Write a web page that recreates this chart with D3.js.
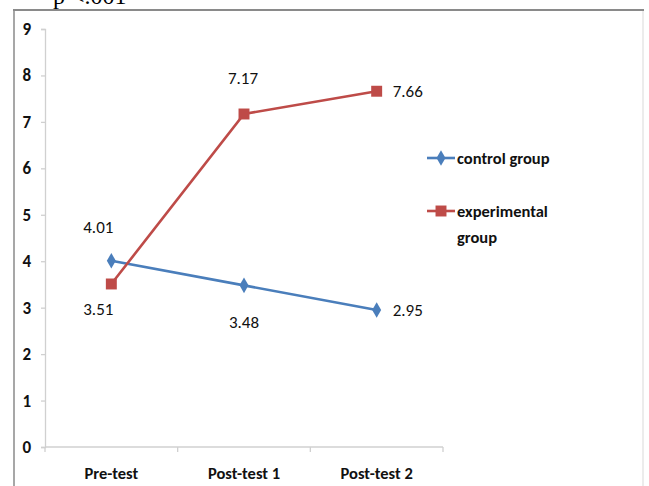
<!DOCTYPE html>
<html>
<head>
<meta charset="utf-8">
<script src="https://cdn.jsdelivr.net/npm/d3@7"></script>
<style>
  html, body { margin: 0; padding: 0; background: #fff; }
  svg { display: block; }
</style>
</head>
<body>
<svg id="chart" width="649" height="486"></svg>
<script>
// ---- data ----
const categories = ["Pre-test", "Post-test 1", "Post-test 2"];
const controlValues = [4.01, 3.48, 2.95];
const experimentalValues = [3.51, 7.17, 7.66];
const seriesNames = ["control group", "experimental group"];
const yTicks = [0, 1, 2, 3, 4, 5, 6, 7, 8, 9];
const noteText = "p <.001";

// ---- setup ----
const svg = d3.select("#chart");
const FONT = "Carlito, 'Liberation Sans', sans-serif";
const blue = "#4a7ebb", red = "#be4b48", axisColor = "#d0d0d0";

// outer frame (page border)
svg.append("line").attr("x1", 14).attr("x2", 14).attr("y1", 9).attr("y2", 486)
  .attr("stroke", "#8a8a8a").attr("stroke-width", 1.5);
svg.append("line").attr("x1", 13).attr("x2", 644).attr("y1", 10).attr("y2", 10)
  .attr("stroke", "#8a8a8a").attr("stroke-width", 2);
svg.append("line").attr("x1", 643).attr("x2", 643).attr("y1", 11).attr("y2", 486)
  .attr("stroke", "#e6e6e6").attr("stroke-width", 1.5);

svg.append("text").attr("x", 53).attr("y", 4)
  .attr("font-family", "'Liberation Serif', 'Times New Roman', serif")
  .attr("font-size", 24).attr("fill", "#000").text(noteText);

const x = d3.scaleBand().domain(categories).range([45, 443]).padding(0);
const y = d3.scaleLinear().domain([0, 9]).range([447, 29]);
const cx = c => x(c) + x.bandwidth() / 2;

// y axis
const yAxis = svg.append("g").attr("transform", "translate(45,0)")
  .call(d3.axisLeft(y).tickValues(yTicks).tickSize(4).tickPadding(10).tickFormat(d3.format("d")));
yAxis.select(".domain").attr("stroke", axisColor).attr("stroke-width", 1.3);
yAxis.selectAll(".tick line").attr("stroke", axisColor).attr("stroke-width", 1.3);
yAxis.selectAll(".tick text").attr("font-family", FONT).attr("font-size", 17)
  .attr("font-weight", "bold").attr("fill", "#111");

// x axis
const xg = svg.append("g").attr("transform", `translate(0,${y(0)})`);
xg.append("line").attr("x1", x.range()[0]).attr("x2", x.range()[1])
  .attr("stroke", axisColor).attr("stroke-width", 1.3);
const bounds = categories.map(c => x(c)).concat([x.range()[1]]);
xg.selectAll("line.tk").data(bounds).join("line").attr("class", "tk")
  .attr("x1", d => d).attr("x2", d => d).attr("y1", 0).attr("y2", 5)
  .attr("stroke", axisColor).attr("stroke-width", 1.3);
xg.selectAll("text").data(categories).join("text")
  .attr("x", d => cx(d)).attr("y", 32).attr("text-anchor", "middle")
  .attr("font-family", FONT).attr("font-size", 16.5).attr("font-weight", "bold")
  .attr("fill", "#111").text(d => d);

// series
const series = [
  { name: seriesNames[0], values: controlValues, color: blue, marker: "diamond",
    labelPos: [[-13, -33, "middle"], [0, 37, "middle"], [16, 1, "start"]] },
  { name: seriesNames[1], values: experimentalValues, color: red, marker: "square",
    labelPos: [[-13, 26, "middle"], [-1, -35, "middle"], [16, 0, "start"]] }
];

const line = d3.line().x((d, i) => cx(categories[i])).y(d => y(d));
const diamond = d3.symbol().type(d3.symbolDiamond).size(70);
const square = d3.symbol().type(d3.symbolSquare).size(120);

series.forEach(s => {
  svg.append("path").datum(s.values).attr("d", line)
    .attr("fill", "none").attr("stroke", s.color).attr("stroke-width", 2.6);
  svg.selectAll(null).data(s.values).join("path")
    .attr("transform", (d, i) => `translate(${cx(categories[i])},${y(d)})`)
    .attr("d", s.marker === "diamond" ? diamond : square)
    .attr("fill", s.color);
  svg.selectAll(null).data(s.values).join("text")
    .attr("x", (d, i) => cx(categories[i]) + s.labelPos[i][0])
    .attr("y", (d, i) => y(d) + s.labelPos[i][1])
    .attr("text-anchor", (d, i) => s.labelPos[i][2])
    .attr("dominant-baseline", "central")
    .attr("font-family", FONT).attr("font-size", 17).attr("fill", "#111")
    .text(d => d3.format(".2f")(d));
});

// legend
const legend = svg.append("g");
const legendRows = [
  { lines: ["control group"], y: 158, color: blue, marker: diamond },
  { lines: ["experimental", "group"], y: 211, color: red, marker: square }
];
legendRows.forEach(r => {
  legend.append("line").attr("x1", 427).attr("x2", 455).attr("y1", r.y).attr("y2", r.y)
    .attr("stroke", r.color).attr("stroke-width", 2.6);
  legend.append("path").attr("transform", `translate(441,${r.y})`).attr("d", r.marker).attr("fill", r.color);
  r.lines.forEach((t, k) => {
    legend.append("text").attr("x", 457).attr("y", r.y + k * 26)
      .attr("dominant-baseline", "central")
      .attr("font-family", FONT).attr("font-size", 16.5).attr("font-weight", "bold")
      .attr("fill", "#111").text(t);
  });
});
</script>
</body>
</html>
